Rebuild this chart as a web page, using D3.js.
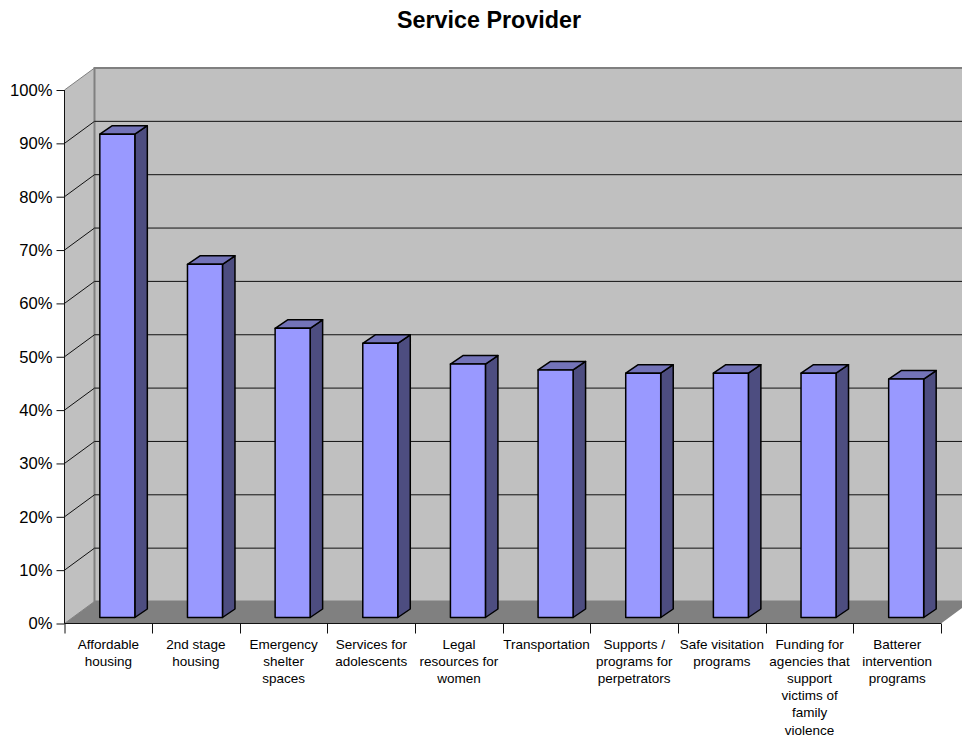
<!DOCTYPE html>
<html><head><meta charset="utf-8">
<script src="https://cdn.jsdelivr.net/npm/d3@7/dist/d3.min.js"></script>
<style>html,body{margin:0;background:#fff}svg{display:block}text{font-family:"Liberation Sans",Arial,sans-serif;fill:#000}</style>
</head><body><div id="c"></div>
<script>
const categories=[["Affordable","housing"],["2nd stage","housing"],["Emergency","shelter","spaces"],["Services for","adolescents"],["Legal","resources for","women"],["Transportation"],["Supports /","programs for","perpetrators"],["Safe visitation","programs"],["Funding for","agencies that","support","victims of","family","violence"],["Batterer","intervention","programs"]];
const values=[90.6,66.2,54.2,51.4,47.5,46.4,45.8,45.8,45.8,44.7];
const yTicks=[0,10,20,30,40,50,60,70,80,90,100];
const title="Service Provider";
const W=962,H=738;
const svg=d3.select("#c").append("svg").attr("width",W).attr("height",H);
const x=d3.scaleBand().domain(d3.range(categories.length)).range([64.5,941]);
const y=d3.scaleLinear().domain([0,100]).range([623.5,90]);
const DX=30,DY=-22;
const barDX=9,barDY=-6,bw=35,bdx=12.5,bdy=-8.5;
const pts=a=>a.map(p=>p.join(",")).join(" ");
svg.append("text").attr("x",489).attr("y",27.5).attr("text-anchor","middle").attr("font-size",23.3).attr("font-weight","bold").text(title);
const x0=x.range()[0],x1=x.range()[1],y0=y(0),yT=y(100);
// walls
svg.append("polygon").attr("points",pts([[x0,yT],[x0+DX,yT+DY],[x0+DX,y0+DY],[x0,y0]])).attr("fill","#c0c0c0").attr("stroke","#808080").attr("stroke-width",1);
svg.append("polygon").attr("points",pts([[x0+DX,yT+DY],[x1+DX,yT+DY],[x1+DX,y0+DY],[x0+DX,y0+DY]])).attr("fill","#c0c0c0").attr("stroke","#808080").attr("stroke-width",2);
svg.append("polygon").attr("points",pts([[x0,y0],[x0+DX,y0+DY],[x1+DX,y0+DY],[x1,y0]])).attr("fill","#808080");
// gridlines
yTicks.filter(t=>t>0&&t<100).forEach(t=>{
  svg.append("polyline").attr("points",pts([[x0,y(t)],[x0+DX,y(t)+DY],[x1+DX,y(t)+DY]])).attr("fill","none").attr("stroke","#111").attr("stroke-width",1);
});
// bars
values.forEach((v,i)=>{
  const c=x(i)+x.bandwidth()/2+barDX-bw/2, b=y0+barDY, t=y(v)+barDY;
  const g=svg.append("g").attr("stroke","#000").attr("stroke-width",1.5).attr("stroke-linejoin","round");
  g.append("polygon").attr("points",pts([[c+bw,b],[c+bw+bdx,b+bdy],[c+bw+bdx,t+bdy],[c+bw,t]])).attr("fill","#4d4d80");
  g.append("polygon").attr("points",pts([[c,t],[c+bdx,t+bdy],[c+bw+bdx,t+bdy],[c+bw,t]])).attr("fill","#7373b8");
  g.append("rect").attr("x",c).attr("y",t).attr("width",bw).attr("height",b-t).attr("fill","#9999ff");
});
// y axis
const ya=d3.axisLeft(y).tickValues(yTicks).tickFormat(d=>d+"%").tickSize(8).tickPadding(4);
const gy=svg.append("g").attr("transform",`translate(${x0},0)`).call(ya);
gy.selectAll("line").attr("stroke","#111");
gy.select(".domain").attr("stroke","#111").attr("d",`M0,${yT}V${y0}`);
gy.selectAll("text").attr("font-size",16.6).attr("font-family",'"Liberation Sans",Arial,sans-serif').attr("fill","#111");
// x axis
const g=svg.append("g").attr("stroke","#111");
g.append("line").attr("x1",x0).attr("x2",x1).attr("y1",y0).attr("y2",y0);
d3.range(categories.length+1).forEach(i=>{
  const xx=Math.round(x0+i*x.step())+.5-(i==0?.5:0);
  g.append("line").attr("x1",xx).attr("x2",xx).attr("y1",y0).attr("y2",y0+10);
});
categories.forEach((lines,i)=>{
  const t=svg.append("text").attr("text-anchor","middle").attr("font-size",13.5).attr("fill","#111");
  lines.forEach((s,j)=>t.append("tspan").attr("x",x(i)+x.bandwidth()/2).attr("y",649+j*17.1).text(s));
});
</script></body></html>
